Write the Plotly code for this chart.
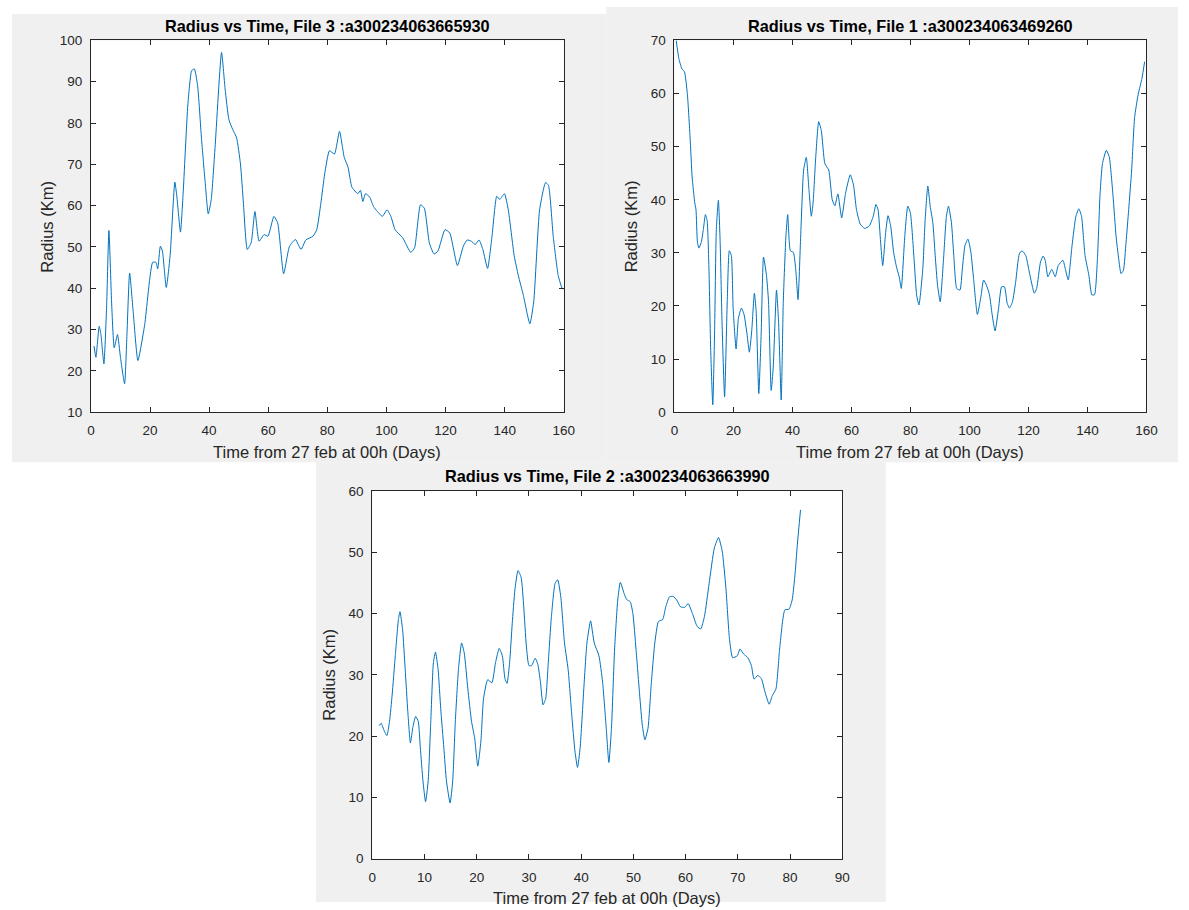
import plotly.graph_objects as go

# ---------------- data ----------------
file3_time = [1.06, 1.7, 2.8, 3.4, 4.4, 5.3, 6.1, 7.0, 7.9, 9.0, 10.0, 11.4, 12.2, 13.1, 14.3, 15.9,
              18.2, 20.9, 22.0, 22.6, 23.5, 24.2, 25.5, 26.8, 28.4, 29.1, 30.3, 31.2, 32.8, 34.1,
              35.0, 36.1, 37.4, 38.7, 39.7, 40.7, 42.0, 44.2, 45.4, 46.7, 48.0, 49.3, 50.6, 51.6,
              52.9, 54.2, 55.5, 56.9, 58.6, 59.9, 61.9, 63.2, 65.2, 67.2, 69.2, 71.1, 72.7, 75.1,
              76.4, 77.8, 79.1, 80.7, 82.4, 84.1, 85.7, 87.0, 88.3, 90.3, 91.2, 92.0, 92.9, 94.3,
              95.6, 96.9, 98.6, 100.2, 101.5, 102.9, 105.5, 108.2, 109.5, 111.5, 112.8, 114.5,
              116.1, 117.4, 119.8, 121.4, 124.0, 126.0, 127.3, 128.7, 130.0, 131.3, 132.6, 134.2,
              135.7, 137.3, 138.3, 139.9, 141.2, 143.2, 144.6, 146.3, 148.5, 149.8, 151.8, 153.8,
              154.8, 156.4, 158.1, 159.5, 160.0]
file3_radius = [26.0, 23.3, 30.8, 28.8, 21.7, 35.2, 54.0, 36.7, 25.6, 28.8, 23.3, 16.9, 28.8, 43.7,
                34.4, 22.5, 31.2, 46.3, 46.3, 44.7, 50.2, 49.0, 40.2, 47.9, 65.7, 62.1, 53.6, 62.9,
                84.4, 92.7, 93.1, 89.1, 76.4, 65.3, 58.0, 61.4, 74.0, 97.1, 88.3, 80.8, 78.4, 76.4,
                70.1, 60.6, 49.4, 51.0, 58.6, 51.4, 53.0, 52.6, 57.4, 55.8, 43.5, 50.2, 51.8, 49.4,
                51.7, 52.6, 54.2, 60.6, 67.7, 73.3, 72.5, 78.0, 71.7, 69.3, 64.5, 62.9, 63.7, 61.0,
                62.9, 62.1, 59.8, 58.6, 57.4, 59.0, 57.4, 54.2, 52.2, 48.7, 49.8, 60.2, 59.4, 51.0,
                48.3, 49.0, 54.2, 53.4, 45.5, 50.2, 51.7, 51.4, 50.6, 51.7, 49.4, 44.8, 52.6, 62.3,
                61.5, 62.9, 59.0, 47.9, 43.1, 38.3, 31.4, 36.7, 59.0, 65.6, 64.9, 52.6, 43.1, 39.9,
                39.9]

file1_time = [0.6, 1.5, 2.5, 3.4, 4.4, 5.3, 6.0, 6.9, 7.3, 7.8, 8.3, 9.1, 9.8, 10.5, 11.1, 11.7,
              12.3, 13.0, 13.6, 14.2, 14.9, 15.5, 16.1, 17.0, 17.9, 18.6, 19.3, 19.9, 20.9, 21.7,
              22.7, 23.6, 24.6, 25.4, 26.2, 27.1, 27.7, 28.6, 29.4, 30.2, 31.2, 31.9, 32.8, 33.5,
              34.6, 35.3, 36.2, 36.9, 37.8, 38.4, 39.3, 40.3, 41.1, 41.9, 42.8, 43.8, 44.7, 45.6,
              46.4, 47.0, 47.9, 48.9, 49.8, 51.0, 52.3, 53.5, 54.4, 55.4, 56.7, 58.0, 59.6, 60.7,
              61.7, 63.0, 64.5, 66.1, 67.4, 68.3, 69.0, 69.9, 70.6, 71.6, 72.4, 73.3, 74.3, 75.3,
              76.2, 76.9, 78.1, 79.1, 80.0, 81.3, 82.1, 82.9, 84.2, 85.0, 85.9, 86.7, 87.6, 88.4,
              89.2, 90.1, 91.3, 92.2, 92.9, 93.9, 94.7, 95.7, 96.8, 97.6, 98.5, 99.5, 100.5, 101.4,
              102.7, 104.0, 104.8, 105.8, 106.8, 107.7, 108.7, 109.9, 110.9, 111.9, 112.8, 113.6,
              114.6, 115.7, 116.9, 117.8, 119.1, 120.3, 122.0, 122.8, 124.1, 125.0, 125.7, 126.6,
              127.9, 129.1, 130.1, 131.7, 132.5, 133.5, 134.8, 136.1, 137.1, 138.0, 139.2, 140.5,
              141.5, 142.4, 143.4, 144.3, 145.1, 146.4, 147.4, 148.7, 149.7, 150.6, 151.4, 152.2,
              153.1, 154.0, 155.0, 156.0, 157.2, 158.5, 159.4]
file1_radius = [70.0, 66.6, 64.7, 64.1, 59.8, 51.8, 44.3, 39.4, 38.2, 32.0, 30.9, 32.0, 34.4, 37.2,
                36.0, 27.0, 11.6, 1.4, 14.7, 34.4, 39.9, 32.0, 17.7, 2.9, 20.8, 30.4, 29.5, 19.6,
                11.9, 17.7, 19.6, 18.4, 14.7, 11.3, 15.3, 22.4, 19.0, 3.5, 14.7, 29.2, 25.8, 20.8,
                4.1, 8.5, 23.0, 17.1, 2.3, 20.8, 33.2, 37.2, 30.4, 30.1, 27.0, 21.2, 33.2, 45.6,
                48.0, 41.9, 36.9, 39.4, 48.0, 54.7, 53.0, 46.8, 45.6, 40.0, 38.9, 41.1, 36.6, 41.2,
                44.7, 42.8, 38.2, 35.4, 34.6, 35.1, 36.9, 39.1, 38.2, 32.0, 27.6, 33.8, 37.0, 35.1,
                30.1, 27.3, 25.5, 23.3, 33.2, 38.8, 37.5, 28.3, 22.1, 20.2, 27.0, 36.3, 42.6, 38.8,
                35.7, 29.5, 23.9, 20.8, 29.5, 36.9, 38.8, 35.7, 29.5, 23.3, 23.0, 27.0, 31.4, 32.6,
                30.1, 25.2, 18.4, 22.1, 24.9, 23.9, 22.1, 18.4, 15.3, 19.6, 23.6, 23.6, 20.5, 19.6,
                20.8, 24.6, 29.8, 30.4, 29.5, 26.4, 22.4, 23.3, 28.3, 29.4, 28.6, 25.5, 26.9, 25.5,
                27.6, 28.6, 27.0, 24.9, 31.4, 36.9, 38.3, 36.9, 29.5, 25.8, 22.1, 22.1, 28.9, 41.2,
                46.8, 49.3, 48.1, 40.6, 33.2, 28.9, 26.1, 26.7, 32.0, 38.2, 45.6, 55.5, 59.8, 62.9,
                66.0]

file2_time = [1.3, 1.7, 2.3, 2.8, 3.3, 3.8, 4.4, 5.0, 5.3, 5.8, 6.3, 6.8, 7.3, 7.8, 8.3, 8.8, 9.2,
              9.7, 10.2, 10.7, 11.2, 11.7, 12.1, 12.6, 13.1, 13.7, 14.2, 14.9, 15.4, 15.9, 16.5,
              17.1, 17.6, 18.3, 19.0, 19.6, 20.2, 20.8, 21.3, 22.1, 22.9, 23.6, 24.3, 24.9, 25.4,
              25.8, 26.3, 26.8, 27.3, 27.9, 28.5, 29.0, 29.5, 30.0, 30.5, 31.2, 31.7, 32.2, 32.7,
              33.2, 33.7, 34.3, 35.0, 35.5, 36.1, 36.8, 37.5, 38.2, 38.8, 39.3, 39.8, 40.5, 41.1,
              41.8, 42.5, 43.4, 44.1, 44.8, 45.3, 45.8, 46.4, 47.0, 47.5, 48.2, 48.7, 49.4, 49.9,
              50.5, 51.2, 51.7, 52.2, 52.8, 53.4, 54.1, 54.8, 55.6, 56.2, 56.9, 57.6, 58.3, 59.0,
              59.8, 60.5, 61.3, 62.2, 62.9, 63.6, 64.5, 65.5, 66.3, 67.0, 67.7, 68.4, 69.0, 69.9,
              70.4, 71.1, 71.9, 72.6, 73.1, 73.8, 74.5, 75.2, 76.0, 76.6, 77.3, 78.0, 79.0, 79.8,
              80.4, 80.9, 81.4, 82.0]
file2_radius = [21.7, 22.1, 20.8, 20.1, 22.4, 26.7, 33.1, 39.0, 40.3, 37.4, 30.9, 24.0, 18.9, 21.6,
                23.2, 22.4, 18.1, 12.7, 9.3, 12.7, 22.4, 32.0, 33.7, 30.9, 24.5, 18.1, 12.7, 9.1,
                12.7, 22.4, 30.9, 35.2, 33.6, 27.7, 22.4, 19.7, 15.1, 19.2, 26.1, 29.2, 28.7, 32.0,
                34.3, 33.1, 29.4, 28.6, 32.0, 38.4, 43.8, 47.0, 45.9, 41.1, 34.7, 31.5, 31.5, 32.7,
                31.7, 28.8, 25.1, 26.1, 32.0, 39.5, 44.9, 45.5, 42.7, 35.2, 30.9, 23.4, 17.6, 14.9,
                18.1, 27.7, 35.2, 38.8, 35.2, 33.1, 28.8, 21.3, 15.7, 21.3, 34.2, 42.2, 45.1, 43.3,
                42.3, 41.9, 40.0, 34.2, 26.7, 21.8, 19.4, 21.3, 28.3, 35.2, 38.7, 39.0, 41.1, 42.7,
                42.8, 42.2, 41.1, 41.0, 41.6, 40.0, 37.9, 37.5, 39.5, 44.9, 50.7, 52.4, 50.2, 44.3,
                35.8, 32.8, 33.1, 34.2, 33.4, 32.8, 31.5, 29.3, 29.9, 29.4, 27.2, 25.2, 26.6, 27.7,
                34.2, 40.6, 40.7, 42.2, 45.9, 51.3, 56.9]

titles = ["Radius vs Time, File 3 :a300234063665930",
          "Radius vs Time, File 1 :a300234063469260",
          "Radius vs Time, File 2 :a300234063663990"]
x_label = "Time from 27 feb at 00h (Days)"
y_label = "Radius (Km)"

# ---------------- layout geometry (page pixels) ----------------
W, H = 1189, 910

def px(x):
    return x / W

def py(y):
    return 1 - y / H

LINE = "#0072BD"
AX = "#262626"
GREY = "#f0f0f0"
FONT = "Liberation Sans, Arial, sans-serif"

fig = go.Figure()
series = [(file3_time, file3_radius), (file1_time, file1_radius), (file2_time, file2_radius)]
for i, (tx, ry) in enumerate(series):
    sx = "" if i == 0 else str(i + 1)
    fig.add_trace(go.Scatter(x=tx, y=ry, mode="lines",
                             line=dict(color=LINE, width=1, shape="spline", smoothing=0.5),
                             xaxis="x" + sx, yaxis="y" + sx, showlegend=False,
                             hoverinfo="skip"))

panels = [
    # (left, right, top, bottom) of plot area in page px, xrange, xdtick, yrange
    (88, 567, 34, 412, [0, 160], 20, [10, 100]),
    (679, 1157, 34, 412, [0, 160], 20, [0, 70]),
    (373, 849, 492, 866, [0, 90], 10, [0, 60]),
]

axis_common = dict(showline=True, linecolor=AX, linewidth=1, mirror="ticks",
                   ticks="inside", ticklen=5, tickcolor=AX, tickwidth=1,
                   showgrid=False, zeroline=False, fixedrange=True,
                   tickfont=dict(family=FONT, size=13.5, color=AX))

layout_axes = {}
annotations = []
shapes = [
    dict(type="rect", xref="paper", yref="paper", x0=px(8), x1=px(610), y0=py(463), y1=py(7),
         fillcolor=GREY, line=dict(width=0), layer="below"),
    dict(type="rect", xref="paper", yref="paper", x0=px(610), x1=px(1189), y0=py(463), y1=py(0),
         fillcolor=GREY, line=dict(width=0), layer="below"),
    dict(type="rect", xref="paper", yref="paper", x0=px(316), x1=px(893), y0=py(910), y1=py(463),
         fillcolor=GREY, line=dict(width=0), layer="below"),
]
for i, (l, r, t, b, xr, xd, yr) in enumerate(panels):
    sx = "" if i == 0 else str(i + 1)
    layout_axes["xaxis" + sx] = dict(domain=[px(l), px(r)], range=xr, dtick=xd, tick0=0,
                                     anchor="y" + sx, ticklabelstandoff=6, **axis_common)
    layout_axes["yaxis" + sx] = dict(domain=[py(b), py(t)], range=yr, dtick=10, tick0=0,
                                     anchor="x" + sx, ticklabelstandoff=5, **axis_common)
    shapes.append(dict(type="rect", xref="paper", yref="paper", x0=px(l), x1=px(r),
                       y0=py(b), y1=py(t), fillcolor="white", line=dict(width=0),
                       layer="below"))
    cx = (l + r) / 2
    cy = (t + b) / 2
    annotations.append(dict(text="<b>" + titles[i] + "</b>", x=px(cx), y=py(t - 15),
                            xref="paper", yref="paper", showarrow=False,
                            xanchor="center", yanchor="middle",
                            font=dict(family=FONT, size=16.3, color="#000000")))
    annotations.append(dict(text=x_label, x=px(cx), y=py(b + 40),
                            xref="paper", yref="paper", showarrow=False,
                            xanchor="center", yanchor="middle",
                            font=dict(family=FONT, size=16.5, color=AX)))
    annotations.append(dict(text=y_label, x=px(l - 44), y=py(cy),
                            xref="paper", yref="paper", showarrow=False, textangle=-90,
                            xanchor="center", yanchor="middle",
                            font=dict(family=FONT, size=16.5, color=AX)))

fig.update_layout(width=W, height=H, margin=dict(l=0, r=0, t=0, b=0),
                  paper_bgcolor="white", plot_bgcolor="rgba(0,0,0,0)",
                  annotations=annotations, shapes=shapes, **layout_axes)

fig.write_html("out.html",
               config={"displayModeBar": False, "staticPlot": True},
               post_script="document.body.style.margin='0';"
                           "document.body.style.padding='0';"
                           "document.body.style.overflow='hidden';")
